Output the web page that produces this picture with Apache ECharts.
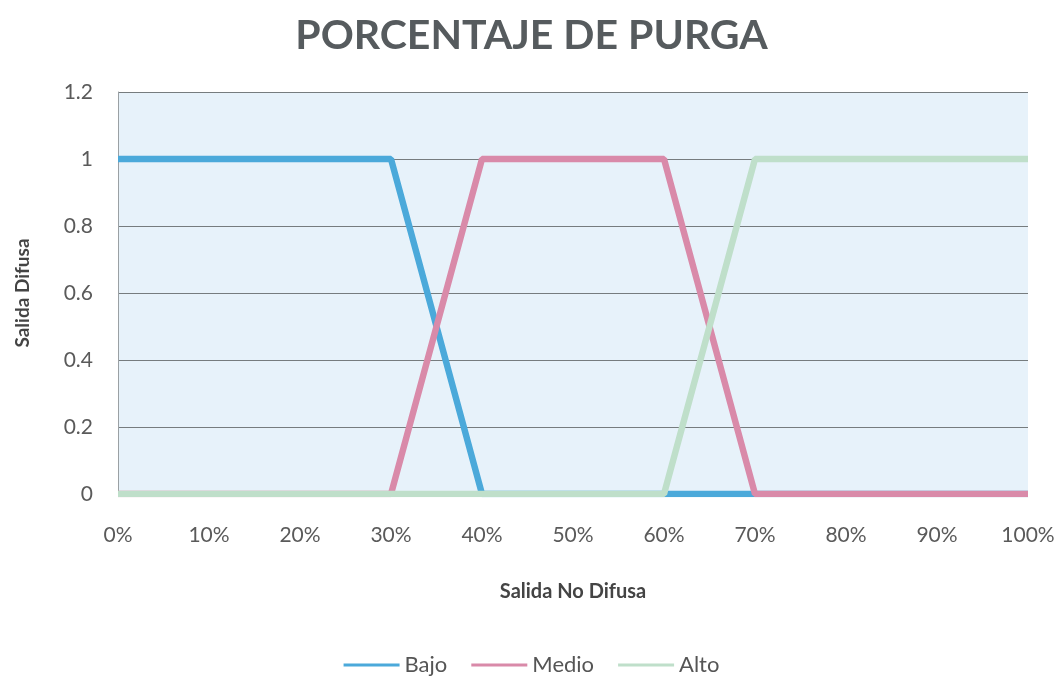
<!DOCTYPE html>
<html>
<head>
<meta charset="utf-8">
<script src="https://cdn.jsdelivr.net/npm/echarts@6/dist/echarts.min.js"></script>
<style>
  html, body { margin: 0; padding: 0; background: #ffffff; }
  #chart { width: 1063px; height: 677px; }
</style>
</head>
<body>
<div id="chart"></div>
<script>
// Membership functions for the purge percentage output
const categories = ['0%', '10%', '20%', '30%', '40%', '50%', '60%', '70%', '80%', '90%', '100%'];
const bajo  = [1, 1, 1, 1, 0, 0, 0, 0, 0, 0, 0];
const medio = [0, 0, 0, 0, 1, 1, 1, 0, 0, 0, 0];
const alto  = [0, 0, 0, 0, 0, 0, 0, 1, 1, 1, 1];

const FONT = 'Lato, "Open Sans", sans-serif';
const chart = echarts.init(document.getElementById('chart'));

function lineSeries(name, data, color) {
  return {
    name: name,
    type: 'line',
    data: data,
    symbol: 'none',
    lineStyle: { color: color, width: 6.5 },
    itemStyle: { color: color },
    emphasis: { disabled: true }
  };
}

chart.setOption({
  animation: false,
  backgroundColor: '#ffffff',
  title: {
    text: 'PORCENTAJE DE PURGA',
    left: 'center',
    top: 10,
    textStyle: { fontFamily: FONT, fontSize: 41, fontWeight: 'bold', color: '#565b5e' }
  },
  grid: {
    left: 118, right: 35, top: 92, bottom: 183,
    show: true,
    backgroundColor: '#e7f2fa',
    borderWidth: 0
  },
  legend: {
    top: 649,
    left: 'center',
    itemWidth: 56,
    itemHeight: 3,
    itemGap: 24,
    icon: 'rect',
    textStyle: { fontFamily: FONT, fontSize: 22, color: '#555' },
    data: ['Bajo', 'Medio', 'Alto']
  },
  xAxis: {
    type: 'category',
    data: categories,
    boundaryGap: false,
    name: 'Salida No Difusa',
    nameLocation: 'middle',
    nameGap: 88,
    nameTextStyle: { fontFamily: FONT, fontSize: 20, fontWeight: 'bold', color: '#444' },
    axisLine: { show: false },
    axisTick: { show: false },
    axisLabel: { margin: 31, fontFamily: FONT, fontSize: 21, color: '#5a5a5a' },
    splitLine: { show: false }
  },
  yAxis: {
    type: 'value',
    min: 0,
    max: 1.2,
    interval: 0.2,
    name: 'Salida Difusa',
    nameLocation: 'middle',
    nameGap: 86,
    nameRotate: 90,
    nameTextStyle: { fontFamily: FONT, fontSize: 19, fontWeight: 'bold', color: '#444' },
    axisLine: { show: true, lineStyle: { color: '#9aa0a4', width: 1 } },
    axisTick: { show: false },
    axisLabel: {
      margin: 25,
      fontFamily: FONT, fontSize: 21, color: '#5a5a5a',
      formatter: function (v) { return String(Math.round(v * 10) / 10); }
    },
    splitLine: { show: true, lineStyle: { color: '#767c7e', width: 1.2 } }
  },
  series: [
    lineSeries('Bajo', bajo, '#4ba9da'),
    lineSeries('Medio', medio, '#d98aa9'),
    lineSeries('Alto', alto, '#bfdfca')
  ]
});
</script>
</body>
</html>
